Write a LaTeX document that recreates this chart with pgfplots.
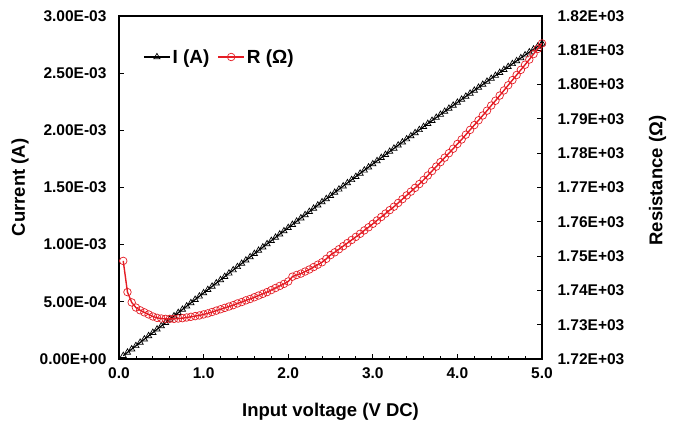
\documentclass[border=0pt]{standalone}
\usepackage{pgfplots}
\usepackage{pgfplotstable}
\usepackage{fontspec}
\setmainfont{Liberation Sans}
\pgfplotsset{compat=1.18}
\definecolor{exred}{RGB}{228,28,36}
\pgfplotstableread{
V I R
0.05 0.02859 1748.6
0.10 0.05749 1739.5
0.15 0.08638 1736.5
0.20 0.11527 1735.0
0.25 0.14416 1734.2
0.30 0.17305 1733.6
0.35 0.20196 1733.0
0.40 0.23089 1732.4
0.45 0.25982 1732.0
0.50 0.28872 1731.8
0.55 0.31761 1731.7
0.60 0.34648 1731.7
0.65 0.37535 1731.7
0.70 0.40421 1731.8
0.75 0.43305 1731.9
0.80 0.46187 1732.1
0.85 0.49068 1732.3
0.90 0.51948 1732.5
0.95 0.54828 1732.7
1.00 0.57703 1733.0
1.05 0.60578 1733.3
1.10 0.63448 1733.7
1.15 0.66317 1734.1
1.20 0.69184 1734.5
1.25 0.72050 1734.9
1.30 0.74915 1735.3
1.35 0.77778 1735.7
1.40 0.80636 1736.2
1.45 0.83497 1736.6
1.50 0.86351 1737.1
1.55 0.89209 1737.5
1.60 0.92060 1738.0
1.65 0.94910 1738.5
1.70 0.97757 1739.0
1.75 1.00604 1739.5
1.80 1.03442 1740.1
1.85 1.06279 1740.7
1.90 1.09114 1741.3
1.95 1.11947 1741.9
2.00 1.14771 1742.6
2.05 1.17546 1744.0
2.10 1.20378 1744.5
2.15 1.23216 1744.9
2.20 1.26038 1745.5
2.25 1.28859 1746.1
2.30 1.31669 1746.8
2.35 1.34478 1747.5
2.40 1.37284 1748.2
2.45 1.40064 1749.2
2.50 1.42833 1750.3
2.55 1.45623 1751.1
2.60 1.48402 1752.0
2.65 1.51178 1752.9
2.70 1.53952 1753.8
2.75 1.56722 1754.7
2.80 1.59490 1755.6
2.85 1.62254 1756.5
2.90 1.65007 1757.5
2.95 1.67766 1758.4
3.00 1.70513 1759.4
3.05 1.73256 1760.4
3.10 1.75997 1761.4
3.15 1.78734 1762.4
3.20 1.81468 1763.4
3.25 1.84198 1764.4
3.30 1.86916 1765.5
3.35 1.89630 1766.6
3.40 1.92340 1767.7
3.45 1.95047 1768.8
3.50 1.97751 1769.9
3.55 2.00452 1771.0
3.60 2.03137 1772.2
3.65 2.05808 1773.5
3.70 2.08474 1774.8
3.75 2.11137 1776.1
3.80 2.13795 1777.4
3.85 2.16450 1778.7
3.90 2.19101 1780.0
3.95 2.21748 1781.3
4.00 2.24379 1782.7
4.05 2.27018 1784.0
4.10 2.29640 1785.4
4.15 2.32259 1786.8
4.20 2.34873 1788.2
4.25 2.37483 1789.6
4.30 2.40089 1791.0
4.35 2.42691 1792.4
4.40 2.45276 1793.9
4.45 2.47869 1795.3
4.50 2.50445 1796.8
4.55 2.53017 1798.3
4.60 2.55584 1799.8
4.65 2.58147 1801.3
4.70 2.60706 1802.8
4.75 2.63260 1804.3
4.80 2.65810 1805.8
4.85 2.68356 1807.3
4.90 2.70883 1808.9
4.95 2.73420 1810.4
5.00 2.75938 1812.0
}\datatable
\begin{document}
\begin{tikzpicture}
\useasboundingbox (-119pt,-74pt) rectangle (560pt,359pt);
\pgfplotsset{
  every axis/.append style={
    scale only axis, width=423pt, height=343pt,
    xmin=0, xmax=5,
    axis line style={line width=1.4pt},
    tick style={line width=0.8pt, black},
    major tick length=5pt, minor tick length=3pt,
    tick align=inside,
    tick label style={font=\fontsize{15.5}{18}\selectfont\bfseries},
    label style={font=\fontsize{18.5}{22}\selectfont\bfseries},
  }
}
\begin{axis}[
  ymin=0, ymax=3,
  xtick={0,1,2,3,4,5},
  xticklabels={0.0,1.0,2.0,3.0,4.0,5.0},
  minor x tick num=4,
  xtick pos=bottom,
  ytick={0,0.5,1,1.5,2,2.5,3},
  yticklabels={0.00E+00,5.00E-04,1.00E-03,1.50E-03,2.00E-03,2.50E-03,3.00E-03},
  ytick pos=left,
  yticklabel shift=9pt,
  xticklabel shift=5pt,
  xlabel={Input voltage (V DC)},
  ylabel={Current (A)},
  xlabel style={at={(axis description cs:0.5,-0.155)}, anchor=center},
  ylabel style={at={(axis description cs:-0.234,0.5)}, anchor=center, rotate=0},
]
\addplot[black, line width=1.2pt, mark=triangle, mark size=3.6pt, mark options={solid, line width=0.7pt}] table[x=V, y=I] {\datatable};
\end{axis}
\begin{axis}[
  ymin=1720, ymax=1820,
  axis x line=none,
  axis y line*=right,
  ytick={1720,1730,1740,1750,1760,1770,1780,1790,1800,1810,1820},
  yticklabels={1.72E+03,1.73E+03,1.74E+03,1.75E+03,1.76E+03,1.77E+03,1.78E+03,1.79E+03,1.80E+03,1.81E+03,1.82E+03},
  yticklabel shift=12pt,
  ylabel={Resistance (Ω)},
  ylabel style={at={(axis description cs:1.273,0.52)}, anchor=center, rotate=0},
  legend style={at={(0.05,0.915)}, anchor=north west, draw=none, fill=none,
    font=\fontsize{19}{22}\selectfont\bfseries, legend columns=2,
    /tikz/every even column/.append style={column sep=6pt}},
  legend image code/.code={\draw[#1, mark repeat=2, mark phase=2] plot coordinates {(0pt,0pt) (13pt,0pt) (26pt,0pt)};},
]
\addlegendimage{black, line width=1.2pt, mark=triangle, mark size=3.6pt, mark options={solid, line width=0.7pt}}
\addlegendentry{I (A)}
\addplot[exred, line width=1.4pt, mark=o, mark size=3.8pt, mark options={solid, line width=0.7pt}] table[x=V, y=R] {\datatable};
\addlegendentry{R (Ω)}
\end{axis}
\end{tikzpicture}
\end{document}
